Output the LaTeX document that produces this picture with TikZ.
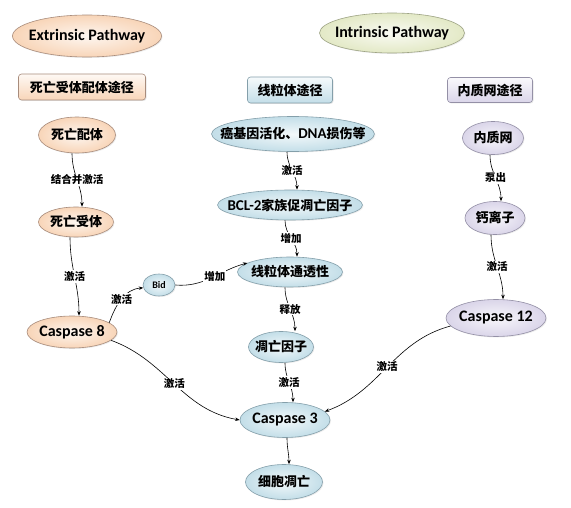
\documentclass[tikz,border=0pt]{standalone}
\usepackage{fontspec}
\setmainfont{Carlito}[BoldFont={Carlito Bold}]
\newfontfamily\cjk{Noto Sans CJK SC}
\usetikzlibrary{shapes.geometric,arrows.meta,shadows}

\definecolor{melo}{HTML}{F8D5B8}
\definecolor{melob}{HTML}{A88C7C}
\definecolor{verde}{HTML}{E3E9C6}
\definecolor{verdeb}{HTML}{9DA384}
\definecolor{azul}{HTML}{C3DEE8}
\definecolor{azulb}{HTML}{849FAA}
\definecolor{lila}{HTML}{DAD5E9}
\definecolor{lilab}{HTML}{9490A6}

\newcommand{\lat}[1]{{\rmfamily\fontsize{15}{15}\selectfont #1}}

\tikzset{
  elip/.style={ellipse, draw=#1b, line width=0.6pt, inner sep=0pt,
    inner color=#1!20!white, outer color=#1,
    drop shadow={shadow xshift=1pt, shadow yshift=-1pt, opacity=0.15},
    execute at begin node={\hbox to 0pt\bgroup\hss},
    execute at end node={\hss\egroup}},
  caja/.style={rectangle, rounded corners=3pt, draw=#1b, line width=0.6pt,
    top color=#1!15!white, bottom color=#1,
    drop shadow={shadow xshift=1pt, shadow yshift=-1pt, opacity=0.2}},
  zh/.style={font=\cjk\bfseries\fontsize{13}{15}\selectfont},
  en/.style={font=\bfseries\fontsize{16}{18}\selectfont}
}

\begin{document}
\begin{tikzpicture}[x=1pt, y=1pt,
  flecha/.style={-{Stealth[length=4.5pt,width=3.5pt]}, line width=0.6pt},
  lbl/.style={fill=white, inner sep=1pt, pos=0.5,
    font=\cjk\bfseries\fontsize{10.5}{12}\selectfont}]
  \useasboundingbox (0,0) rectangle (571,507);

  % Cabeceras
  \node[elip=melo, en, minimum width=149pt, minimum height=42pt] (ext) at (87,471) {Extrinsic Pathway};
  \node[elip=verde, en, minimum width=145pt, minimum height=40pt] (int) at (392,474) {Intrinsic Pathway};
  \node[caja=melo, zh, minimum width=127pt, minimum height=26pt] (cajaext) at (82,420) {死亡受体配体途径};
  \node[caja=azul, zh, minimum width=85pt, minimum height=26pt] (cajamit) at (290,417) {线粒体途径};
  \node[caja=lila, zh, minimum width=85pt, minimum height=25pt] (cajare) at (490,417) {内质网途径};

  % Via extrinseca
  \node[elip=melo, zh, minimum width=77pt, minimum height=36pt] (lig) at (77,372) {死亡配体};
  \node[elip=melo, zh, minimum width=75pt, minimum height=30pt] (rec) at (76,285) {死亡受体};
  \node[elip=melo, en, minimum width=90pt, minimum height=32pt] (casp8) at (72,175) {Caspase 8};
  \node[elip=azul, font=\bfseries\fontsize{10}{11}\selectfont, minimum width=32pt, minimum height=22pt] (bid) at (159,222) {Bid};

  % Via mitocondrial
  \node[elip=azul, zh, minimum width=163pt, minimum height=35pt] (onco) at (293,373) {癌基因活化、\lat{DNA}损伤等};
  \node[elip=azul, zh, minimum width=145pt, minimum height=30pt] (bcl) at (290,302) {\lat{BCL-2}家族促凋亡因子};
  \node[elip=azul, zh, minimum width=105pt, minimum height=30pt] (perm) at (290,235) {线粒体通透性};
  \node[elip=azul, zh, minimum width=65pt, minimum height=31pt] (fact) at (281,160) {凋亡因子};
  \node[elip=azul, en, minimum width=90pt, minimum height=35pt] (casp3) at (285,87) {Caspase 3};
  \node[elip=azul, zh, minimum width=77pt, minimum height=35pt] (muerte) at (284,25) {细胞凋亡};

  % Via del reticulo
  \node[elip=lila, zh, minimum width=61pt, minimum height=33pt] (re) at (493,369) {内质网};
  \node[elip=lila, zh, minimum width=60pt, minimum height=33pt] (calcio) at (495,289) {钙离子};
  \node[elip=lila, en, minimum width=100pt, minimum height=37pt] (casp12) at (496,189) {Caspase 12};

  % Flechas
  \draw[flecha] ([xshift=-5pt]lig.south) to[out=-90,in=90] node[lbl]{结合并激活} ([xshift=6pt]rec.north);
  \draw[flecha] ([xshift=-6pt]rec.south) to[out=-90,in=90] node[lbl]{激活} ([xshift=7pt]casp8.north);
  \draw[flecha] (casp8.14) to[out=70,in=185] node[lbl]{激活} (bid.190);
  \draw[flecha] (bid.east) to[out=-5,in=195] node[lbl, pos=0.55]{增加} (perm.168);
  \draw[flecha] ([xshift=-6pt]onco.south) to[out=-90,in=90] node[lbl]{激活} ([xshift=7pt]bcl.north);
  \draw[flecha] ([xshift=-5pt]bcl.south) to[out=-90,in=90] node[lbl]{增加} ([xshift=7pt]perm.north);
  \draw[flecha] ([xshift=-5pt]perm.south) to[out=-90,in=90] node[lbl]{释放} ([xshift=14pt]fact.north);
  \draw[flecha] ([xshift=4pt]fact.south) to[out=-90,in=90] node[lbl]{激活} ([xshift=8pt]casp3.north);
  \draw[flecha] ([xshift=2pt]casp3.south) to[out=-90,in=90] ([xshift=5pt]muerte.north);
  \draw[flecha] (casp8.-12) to[out=-20,in=170] node[lbl]{激活} (casp3.west);
  \draw[flecha] (casp12.190) to[out=195,in=20] node[lbl]{激活} (casp3.12);
  \draw[flecha] ([xshift=-3pt]re.south) to[out=-90,in=90] node[lbl]{泵出} ([xshift=6pt]calcio.north);
  \draw[flecha] ([xshift=-4pt]calcio.south) to[out=-90,in=90] node[lbl]{激活} ([xshift=7pt]casp12.north);
\end{tikzpicture}
\end{document}
